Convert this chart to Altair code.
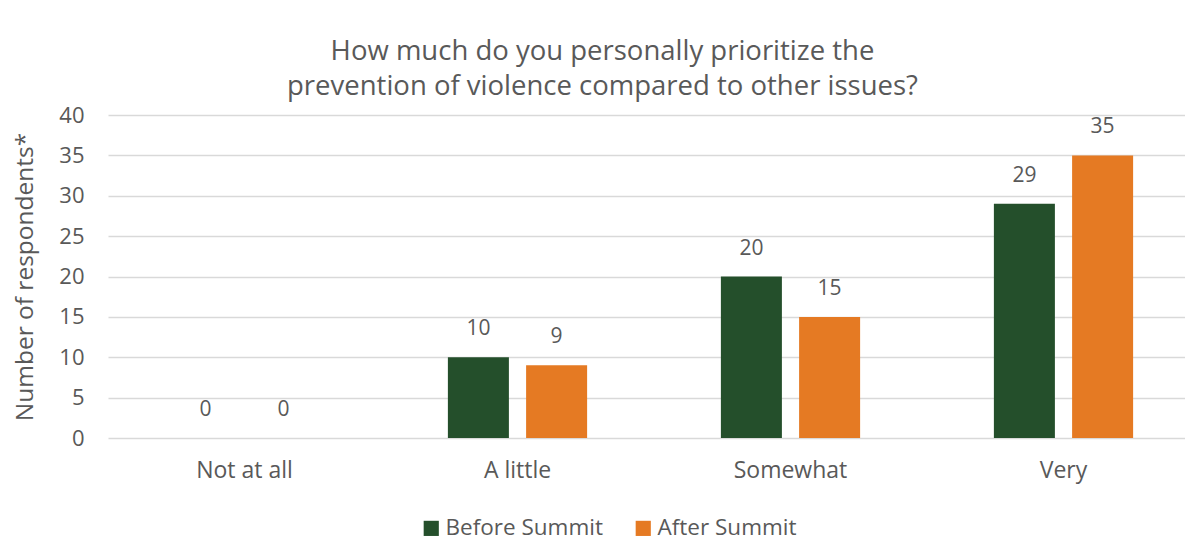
import altair as alt
import pandas as pd

categories = ["Not at all", "A little", "Somewhat", "Very"]
series = ["Before Summit", "After Summit"]
before = [0, 10, 20, 29]
after = [0, 9, 15, 35]
colors = ["#244F2B", "#E57A23"]

rows = []
for c, b, a in zip(categories, before, after):
    rows.append({"cat": c, "series": series[0], "value": b})
    rows.append({"cat": c, "series": series[1], "value": a})
df = pd.DataFrame(rows)

FONT = "Open Sans"
GRAY = "#595959"

base = alt.Chart(df).encode(
    x=alt.X("cat:N", sort=categories, title=None,
            scale=alt.Scale(paddingInner=0.49, paddingOuter=0.245, range=[0, 1092]),
            axis=alt.Axis(labelAngle=0, domain=False, ticks=False, labelPadding=21,
                          labelFontSize=23, labelColor=GRAY, labelFont=FONT)),
    xOffset=alt.XOffset("series:N", sort=series,
                        scale=alt.Scale(paddingInner=0.22, paddingOuter=0)),
)

bars = base.mark_bar().encode(
    y=alt.Y("value:Q", title="Number of respondents*",
            scale=alt.Scale(domain=[0, 40]),
            axis=alt.Axis(values=[0, 5, 10, 15, 20, 25, 30, 35, 40], domain=False, ticks=False,
                          gridColor="#D9D9D9", gridWidth=1.5, labelPadding=24,
                          labelFontSize=22, labelColor=GRAY, labelFont=FONT,
                          titleFontSize=24.5, titleColor=GRAY, titleFont=FONT,
                          titleFontWeight="normal", titlePadding=21)),
    color=alt.Color("series:N", sort=series,
                    scale=alt.Scale(domain=series, range=colors),
                    legend=alt.Legend(title=None, orient="none", direction="horizontal",
                                      legendX=312, legendY=402,
                                      symbolType="square", symbolSize=230,
                                      symbolStrokeWidth=0, labelOffset=3,
                                      columnPadding=29, labelLimit=400,
                                      labelFontSize=22.5, labelColor=GRAY, labelFont=FONT)),
)

labels = base.mark_text(fontSize=21, color=GRAY, font=FONT, baseline="middle", dy=-28).encode(
    y=alt.Y("value:Q"),
    text=alt.Text("value:Q"),
)

chart = alt.layer(bars, labels).properties(
    width=1077, height=323,
    title=alt.TitleParams(
        ["How much do you personally prioritize the",
         "prevention of violence compared to other issues?"],
        fontSize=27.5, font=FONT, color=GRAY, fontWeight="normal",
        anchor="middle", lineHeight=35, offset=4, dx=-44),
    autosize=alt.AutoSizeParams(type="none"),
    padding={"left": 100, "top": 107, "right": 0, "bottom": 103},
).configure_view(stroke=None)

chart.save("out.html", embed_options={"renderer": "svg", "actions": False})
